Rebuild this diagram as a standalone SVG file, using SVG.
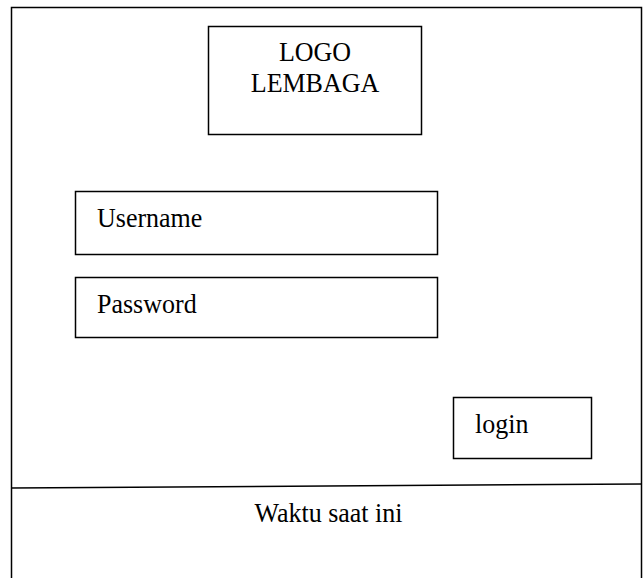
<svg xmlns="http://www.w3.org/2000/svg" width="644" height="578" viewBox="0 0 644 578">
<style>
.box{fill:#fff;stroke:#000;stroke-width:1.5}
.t{font-family:"Liberation Serif","Times New Roman",serif;font-size:26px;fill:#000}
</style>
<rect width="644" height="578" fill="#fff"/>
<g id="frame"><rect class="box" x="11.5" y="7.5" width="630" height="580"/></g>
<g id="logo"><rect class="box" x="208.5" y="26.5" width="213" height="108"/>
<text class="t" transform="translate(315,61) scale(1,1.08)" text-anchor="middle">LOGO</text>
<text class="t" transform="translate(315,92) scale(1,1.08)" text-anchor="middle">LEMBAGA</text></g>
<g id="username"><rect class="box" x="75.5" y="191.5" width="362" height="63"/>
<text class="t" transform="translate(97,227) scale(1,1.08)">Username</text></g>
<g id="password"><rect class="box" x="75.5" y="277.5" width="362" height="60"/>
<text class="t" transform="translate(97,313) scale(1,1.08)">Password</text></g>
<g id="login"><rect class="box" x="453.5" y="397.5" width="138" height="61"/>
<text class="t" transform="translate(475,433) scale(1,1.08)">login</text></g>
<g id="connectors"><line x1="11" y1="488" x2="642" y2="484" stroke="#000" stroke-width="1.5"/></g>
<g id="footer"><text class="t" transform="translate(328.5,522) scale(1,1.08)" text-anchor="middle">Waktu saat ini</text></g>
</svg>
